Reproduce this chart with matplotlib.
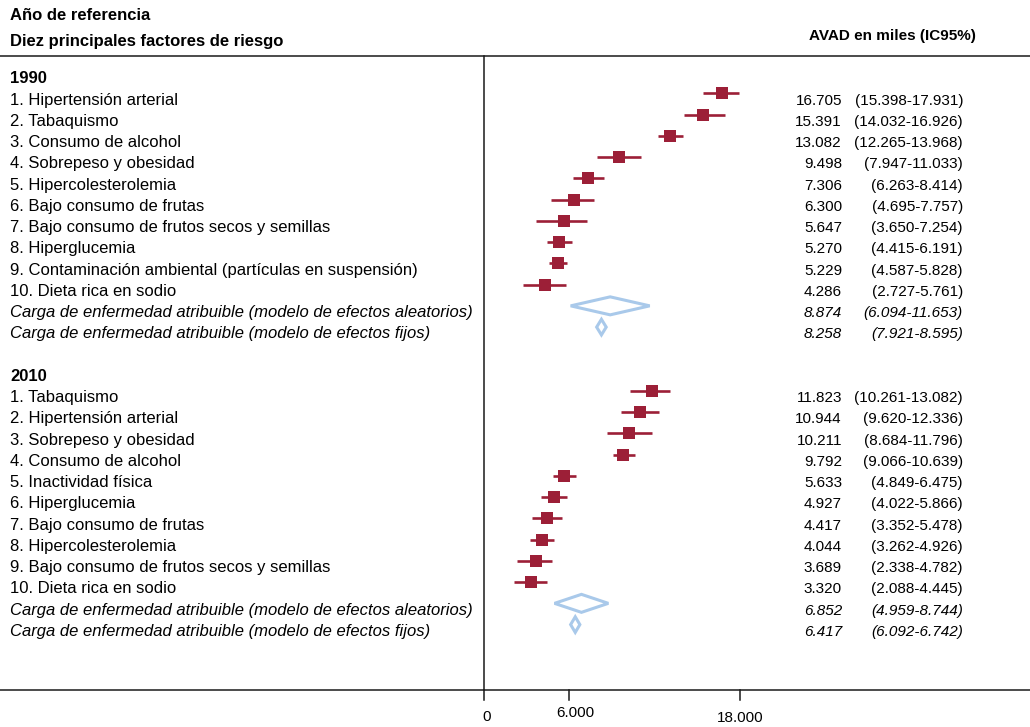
import matplotlib
matplotlib.use("Agg")
import matplotlib.pyplot as plt
from matplotlib.patches import Polygon

# ── data ─────────────────────────────────────────────────────────
factors_1990 = [
    "1. Hipertensión arterial",
    "2. Tabaquismo",
    "3. Consumo de alcohol",
    "4. Sobrepeso y obesidad",
    "5. Hipercolesterolemia",
    "6. Bajo consumo de frutas",
    "7. Bajo consumo de frutos secos y semillas",
    "8. Hiperglucemia",
    "9. Contaminación ambiental (partículas en suspensión)",
    "10. Dieta rica en sodio",
]
est_1990 = [16.705, 15.391, 13.082, 9.498, 7.306, 6.300, 5.647, 5.270, 5.229, 4.286]
lo_1990 = [15.398, 14.032, 12.265, 7.947, 6.263, 4.695, 3.650, 4.415, 4.587, 2.727]
hi_1990 = [17.931, 16.926, 13.968, 11.033, 8.414, 7.757, 7.254, 6.191, 5.828, 5.761]
pooled_1990 = [8.874, 8.258]
pooled_lo_1990 = [6.094, 7.921]
pooled_hi_1990 = [11.653, 8.595]

factors_2010 = [
    "1. Tabaquismo",
    "2. Hipertensión arterial",
    "3. Sobrepeso y obesidad",
    "4. Consumo de alcohol",
    "5. Inactividad física",
    "6. Hiperglucemia",
    "7. Bajo consumo de frutas",
    "8. Hipercolesterolemia",
    "9. Bajo consumo de frutos secos y semillas",
    "10. Dieta rica en sodio",
]
est_2010 = [11.823, 10.944, 10.211, 9.792, 5.633, 4.927, 4.417, 4.044, 3.689, 3.320]
lo_2010 = [10.261, 9.620, 8.684, 9.066, 4.849, 4.022, 3.352, 3.262, 2.338, 2.088]
hi_2010 = [13.082, 12.336, 11.796, 10.639, 6.475, 5.866, 5.478, 4.926, 4.782, 4.445]
pooled_2010 = [6.852, 6.417]
pooled_lo_2010 = [4.959, 6.092]
pooled_hi_2010 = [8.744, 6.742]

pooled_labels = [
    "Carga de enfermedad atribuible (modelo de efectos aleatorios)",
    "Carga de enfermedad atribuible (modelo de efectos fijos)",
]
ticks = [0, 6, 18]
tick_labels = ["0", "6.000", "18.000"]

# ── style ────────────────────────────────────────────────────────
RED = "#9c1f37"
BLUE = "#a9c9ea"
INK = "#1a1a1a"
FS_LAB = 12     # row labels / headers on the left
FS_NUM = 11     # numeric columns

W, H = 1030, 727
PX_PER_UNIT = 14.22
X0_PX = 484            # pixel of value 0
BASE0 = 83.4           # baseline of "1990"
STEP = 21.25           # row pitch in px
MARK_UP = 11.3         # marks sit near the cap line of each row

plt.rcParams["font.family"] = ["Liberation Sans", "DejaVu Sans"]

fig = plt.figure(figsize=(W / 100, H / 100), dpi=100)
ax = fig.add_axes([0, 0, 1, 1])
xmin = -X0_PX / PX_PER_UNIT
ax.set_xlim(xmin, xmin + W / PX_PER_UNIT)
ax.set_ylim(H, 0)
ax.axis("off")


def px(x):
    return xmin + x / PX_PER_UNIT


def fmt(v):
    return f"{v:.3f}"


# header
ax.text(px(10), 20.5, "Año de referencia", fontsize=FS_LAB, fontweight="bold", va="baseline")
ax.text(px(10), 46, "Diez principales factores de riesgo", fontsize=FS_LAB,
        fontweight="bold", va="baseline")
ax.text(px(892), 40, "AVAD en miles (IC95%)", fontsize=FS_NUM, fontweight="bold",
        va="baseline", ha="center")

# frame lines
ax.plot([px(0), px(W)], [56, 56], color=INK, lw=1.1)
ax.plot([px(0), px(W)], [690, 690], color=INK, lw=1.1)
ax.plot([0, 0], [56, 690], color=INK, lw=1.1)
for t in ticks:
    ax.plot([t, t], [690, 700], color=INK, lw=1.1)
ax.text(px(487), 721, tick_labels[0], fontsize=FS_NUM, ha="center", va="baseline")
ax.text(px(575), 717, tick_labels[1], fontsize=FS_NUM, ha="center", va="baseline")
ax.text(18, 722, tick_labels[2], fontsize=FS_NUM, ha="center", va="baseline")


def diamond(center, lo, hi, y, half_h):
    poly = Polygon([(lo, y), (center, y - half_h), (hi, y), (center, y + half_h)],
                   closed=True, fill=False, edgecolor=BLUE, lw=2.2, joinstyle="miter")
    ax.add_patch(poly)


def block(start_row, year, labels, est, lo, hi, pest, plo, phi):
    y = BASE0 + start_row * STEP
    ax.text(px(10), y, year, fontsize=FS_LAB, fontweight="bold", va="baseline")
    for i, (lab, e, l, h) in enumerate(zip(labels, est, lo, hi)):
        yy = BASE0 + (start_row + 1 + i) * STEP
        ym = yy - MARK_UP
        ax.text(px(10), yy, lab, fontsize=FS_LAB, va="baseline")
        ax.plot([l, h], [ym, ym], color=RED, lw=1.9, solid_capstyle="butt", zorder=2)
        ax.plot([e], [ym], marker="s", ms=8.6, mew=0, color=RED, zorder=3)
        ax.text(px(842), yy, fmt(e), fontsize=FS_NUM, va="baseline", ha="right")
        ax.text(px(963), yy, f"({fmt(l)}-{fmt(h)})", fontsize=FS_NUM,
                va="baseline", ha="right")
    for j, (lab, e, l, h) in enumerate(zip(pooled_labels, pest, plo, phi)):
        yy = BASE0 + (start_row + 11 + j) * STEP
        ym = yy - MARK_UP
        ax.text(px(10), yy, lab, fontsize=FS_LAB, va="baseline", style="italic")
        diamond(e, l, h, ym, 9.0 if j == 0 else 7.8)
        ax.text(px(842), yy, fmt(e), fontsize=FS_NUM, va="baseline", ha="right",
                style="italic")
        ax.text(px(963), yy, f"({fmt(l)}-{fmt(h)})", fontsize=FS_NUM, va="baseline",
                ha="right", style="italic")


block(0, "1990", factors_1990, est_1990, lo_1990, hi_1990,
      pooled_1990, pooled_lo_1990, pooled_hi_1990)
block(14, "2010", factors_2010, est_2010, lo_2010, hi_2010,
      pooled_2010, pooled_lo_2010, pooled_hi_2010)

fig.savefig("out.png", dpi=100)
